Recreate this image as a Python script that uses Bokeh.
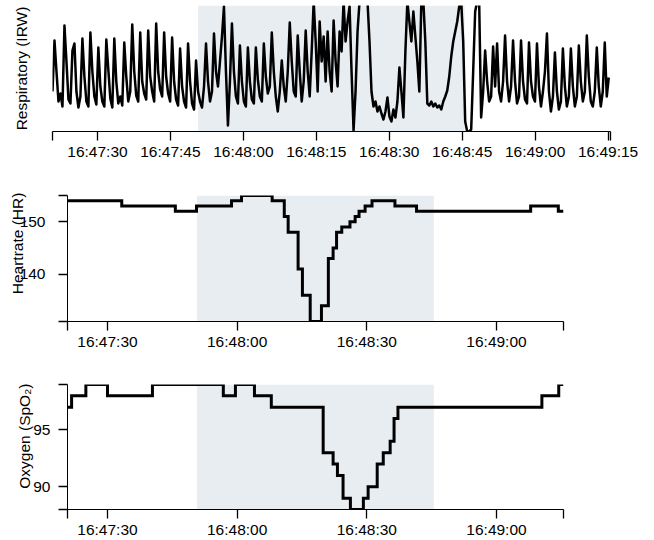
import numpy as np
import pandas as pd
from bokeh.plotting import figure
from bokeh.models import FixedTicker, DatetimeTickFormatter, BoxAnnotation, Range1d
from bokeh.embed import file_html
from bokeh.resources import INLINE

# ---------------- data ----------------
BASE = "2020-01-01 16:47:00"          # time origin (seconds below are after 16:47:00)
x_start_s, x_end_s = 20.75, 135.5      # visible time window
shade_start_s, shade_end_s = 50.7, 105.5
resp_start_s, resp_dt = 20.75, 0.41    # respiratory sampling

# Respiratory (IRW) trace, arbitrary units (0..126 visible)
resp = [40, 91, 60, 30, 38, 25, 106, 70, 32, 28,
        81, 88, 40, 24, 35, 93, 55, 30, 25, 99,
        60, 35, 27, 84, 45, 30, 25, 92, 62, 33,
        24, 93, 50, 28, 35, 26, 89, 55, 30, 40,
        107, 60, 36, 30, 99, 50, 38, 32, 101, 55,
        40, 30, 108, 60, 42, 35, 99, 55, 38, 30,
        94, 50, 32, 26, 83, 45, 30, 24, 88, 50,
        28, 22, 71, 40,
        30, 24, 45, 88, 50, 30, 40, 98, 60, 45,
        70, 95, 125, 60, 6, 50, 108, 60, 35, 28,
        86, 50, 30, 25, 84, 50, 32, 28, 84, 52,
        35, 30, 88, 55, 38, 45, 99, 60, 35, 20,
        40, 71, 45, 30, 60, 109, 70, 40, 35, 96,
        60, 30, 50, 101, 60, 35, 80, 130, 90, 40,
        110, 70, 95, 50, 100, 60, 40, 111, 70, 45,
        100, 80, 130, 90, 110, 125, 60, 1, 40, 100,
        130, 135, 135, 135, 130, 90, 40, 25, 30, 20,
        25, 18, 12, 20, 34, 15, 10, 22, 14, 30,
        64, 40, 14, 80, 130, 110, 90, 120, 95, 70,
        40, 130, 130, 90, 28, 26, 30, 25, 28, 24,
        26, 22, 30, 35, 41, 55, 75, 90, 100, 110,
        125, 130, 90, 10, 0, 0, 2, 60, 120, 130,
        130, 14, 40, 81, 50, 30, 35, 85, 45, 88,
        40, 30, 50, 96, 50, 30, 45, 91, 50, 28,
        35, 91, 50, 32, 28, 89, 50, 35, 30, 88,
        45, 25, 40, 60, 98, 40, 20, 35, 79, 40,
        22, 30, 83, 45, 25, 35, 83, 45, 25, 35,
        86, 50, 30, 40, 96, 55, 30, 25, 40, 84,
        45, 25, 40, 89, 35, 54]

# Heart rate (HR): change times (s after 16:47:00) and values
hr_t = [20.75, 33.3, 45.7, 50.6, 58.7, 61.0, 68.1, 70.9, 71.8, 74.1, 75.1, 76.9,
        79.5, 81.1, 82.2, 83.0, 84.2, 86.1, 87.3, 88.2, 89.6, 91.2, 96.5, 101.5,
        127.9, 134.3, 135.5]
hr = [154, 153, 152, 153, 154, 155, 154, 151, 148, 141, 136, 131,
      134, 143, 145, 148, 149, 150, 151, 152, 153, 154, 153, 152,
      153, 152, 152]

# Oxygen (SpO2): change times and values
spo2_t = [20.75, 21.7, 25.0, 30.0, 40.4, 56.8, 59.6, 64.0, 67.9, 79.9, 82.2, 83.2,
          84.5, 86.2, 89.2, 90.3, 92.4, 93.8, 95.4, 96.3, 97.2, 130.5, 134.4, 135.5]
spo2 = [97, 98, 99, 98, 99, 98, 99, 98, 97, 93, 92, 91,
        89, 88, 89, 90, 92, 93, 94, 96, 97, 98, 99, 99]

top_tick_labels = ["16:47:30", "16:47:45", "16:48:00", "16:48:15",
                   "16:48:30", "16:48:45", "16:49:00", "16:49:15"]
low_tick_labels = ["16:47:30", "16:48:00", "16:48:30", "16:49:00"]
hr_ticks, hr_range = [140, 150], (131, 155)
spo2_ticks, spo2_range = [90, 95], (88, 99)
resp_range = (0, 126)

# ---------------- helpers ----------------
base = pd.Timestamp(BASE)
epoch = pd.Timestamp("1970-01-01")
FONT = "Liberation Sans"
FS = "15.5px"
SHADE = "#e8edf2"
NB = "\u00a0"   # non-breaking space used to nudge the rotated axis titles upward


def ts(s):
    return base + pd.Timedelta(seconds=s)


def ms(s):
    return (ts(s) - epoch) / pd.Timedelta(milliseconds=1)


def label_ms(lbl):
    return (pd.Timestamp("2020-01-01 " + lbl) - epoch) / pd.Timedelta(milliseconds=1)


fmt_str = "%H:%M:%S"
fmt = DatetimeTickFormatter(microseconds=fmt_str, milliseconds=fmt_str, seconds=fmt_str,
                            minsec=fmt_str, minutes=fmt_str, hourmin=fmt_str, hours=fmt_str)


def make_fig(height, top, bottom, left, right, yr):
    p = figure(width=654, height=height, x_axis_type="datetime",
               x_range=Range1d(ts(x_start_s), ts(x_end_s)),
               y_range=Range1d(*yr),
               min_border_top=top, min_border_bottom=bottom,
               min_border_left=left, min_border_right=right,
               toolbar_location=None, output_backend="svg")
    p.outline_line_color = None
    p.xgrid.visible = False
    p.ygrid.visible = False
    p.add_layout(BoxAnnotation(left=ms(shade_start_s), right=ms(shade_end_s),
                               fill_color=SHADE, fill_alpha=1.0, line_color=None,
                               level="underlay"))
    return p


def style_axis(ax, standoff):
    ax.axis_line_color = "black"
    ax.axis_line_width = 1
    ax.major_tick_line_color = "black"
    ax.minor_tick_line_color = "black"
    ax.major_tick_line_width = 1.3
    ax.minor_tick_line_width = 1.3
    ax.major_tick_out = 9
    ax.major_tick_in = 0
    ax.minor_tick_out = 9
    ax.minor_tick_in = 0
    ax.major_label_text_font = FONT
    ax.major_label_text_font_size = FS
    ax.major_label_text_color = "black"
    ax.major_label_standoff = standoff


def x_axis(p, labels):
    ax = p.xaxis[0]
    ax.ticker = FixedTicker(ticks=[label_ms(l) for l in labels],
                            minor_ticks=[ms(x_start_s) + 1, ms(x_end_s) - 1])
    ax.formatter = fmt
    style_axis(ax, 2)


def y_title(ax, text, standoff):
    ax.axis_label = text
    ax.axis_label_standoff = standoff
    ax.axis_label_text_font = FONT
    ax.axis_label_text_font_size = FS
    ax.axis_label_text_font_style = "normal"
    ax.axis_label_text_color = "black"


# ---------------- top: respiratory ----------------
p1 = make_fig(170, 5, 39, 52, 44, resp_range)
resp_time = [ts(resp_start_s + i * resp_dt) for i in range(len(resp))]
p1.line(resp_time, resp, line_color="black", line_width=2.5, line_join="round")
x_axis(p1, top_tick_labels)
ay = p1.yaxis[0]
ay.ticker = FixedTicker(ticks=[])
ay.axis_line_color = None
ay.major_tick_out = 0
ay.minor_tick_out = 0
ay.major_label_standoff = 0
y_title(ay, "Respiratory (IRW)", 23)

# ---------------- middle: heart rate ----------------
p2 = make_fig(190, 25, 39, 67, 91, hr_range)
p2.step([ts(t) for t in hr_t], hr, mode="after", line_color="black", line_width=3,
        line_join="miter")
x_axis(p2, low_tick_labels)
ay = p2.yaxis[0]
ay.ticker = FixedTicker(ticks=hr_ticks, minor_ticks=list(hr_range))
style_axis(ay, 13)
y_title(ay, NB * 7 + "Heartrate (HR)", -9)

# ---------------- bottom: oxygen ----------------
p3 = make_fig(180, 24, 31, 67, 91, spo2_range)
p3.step([ts(t) for t in spo2_t], spo2, mode="after", line_color="black", line_width=3,
        line_join="miter")
x_axis(p3, low_tick_labels)
ay = p3.yaxis[0]
ay.ticker = FixedTicker(ticks=spo2_ticks, minor_ticks=list(spo2_range))
style_axis(ay, 8)
y_title(ay, NB * 5 + "Oxygen (SpO\u2082)", -3)

open("out.html", "w").write(file_html([p1, p2, p3], INLINE))
